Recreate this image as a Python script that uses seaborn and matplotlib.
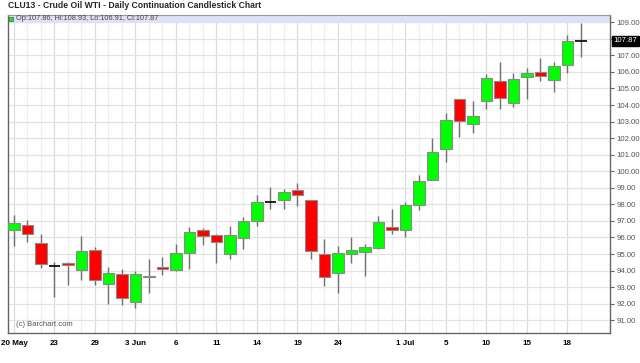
#CLU13 crude oil daily candlestick chart

#import packages
import numpy as np
import pandas as pd
import matplotlib
matplotlib.use("Agg")
import matplotlib.pyplot as plt
import matplotlib.transforms as mtrans
import seaborn as sns

#daily OHLC (one row per trading day)
dates = ["2013-05-20", "2013-05-21", "2013-05-22", "2013-05-23", "2013-05-24",
         "2013-05-28", "2013-05-29", "2013-05-30", "2013-05-31", "2013-06-03",
         "2013-06-04", "2013-06-05", "2013-06-06", "2013-06-07", "2013-06-10",
         "2013-06-11", "2013-06-12", "2013-06-13", "2013-06-14", "2013-06-17",
         "2013-06-18", "2013-06-19", "2013-06-20", "2013-06-21", "2013-06-24",
         "2013-06-25", "2013-06-26", "2013-06-27", "2013-06-28", "2013-07-01",
         "2013-07-02", "2013-07-03", "2013-07-05", "2013-07-08", "2013-07-09",
         "2013-07-10", "2013-07-11", "2013-07-12", "2013-07-15", "2013-07-16",
         "2013-07-17", "2013-07-18", "2013-07-19"]
opens = [96.43, 96.75, 95.68, 94.30, 94.46, 94.03, 95.24, 93.17, 93.79, 92.12,
         93.59, 94.23, 94.03, 95.04, 96.45, 96.13, 95.02, 95.98, 96.98, 98.12,
         98.26, 98.89, 98.26, 94.98, 93.83, 94.98, 95.14, 95.38, 96.63, 96.43,
         97.96, 99.45, 101.33, 104.35, 102.87, 104.23, 105.44, 104.11, 105.69, 106.00,
         105.53, 106.40, 107.86]
highs = [97.36, 97.04, 96.21, 94.53, 94.50, 96.09, 95.44, 94.20, 94.08, 93.97,
         94.72, 94.80, 95.60, 96.65, 96.55, 96.21, 96.69, 97.22, 98.57, 99.07,
         98.93, 99.27, 98.27, 95.89, 95.48, 96.00, 95.60, 97.30, 97.70, 98.16,
         99.77, 101.99, 103.50, 104.35, 104.24, 105.88, 106.58, 105.92, 106.26, 106.82,
         106.58, 108.23, 108.93]
lows = [95.50, 95.74, 94.14, 92.40, 93.13, 93.43, 93.13, 91.98, 91.92, 91.72,
        92.66, 93.75, 94.00, 94.08, 95.53, 94.44, 94.72, 95.28, 96.69, 97.70,
        97.72, 97.90, 94.68, 93.07, 92.63, 94.44, 93.67, 95.28, 96.21, 96.00,
        97.66, 99.45, 100.58, 102.05, 102.29, 103.74, 103.78, 103.90, 104.35, 105.45,
        104.79, 105.95, 106.91]
closes = [96.85, 96.23, 94.41, 94.29, 94.32, 95.18, 93.43, 93.83, 92.32, 93.77,
          93.69, 94.08, 95.04, 96.35, 96.09, 95.71, 96.17, 96.98, 98.12, 98.13,
          98.75, 98.56, 95.20, 93.63, 95.04, 95.24, 95.44, 96.92, 96.47, 97.94,
          99.43, 101.14, 103.10, 103.05, 103.32, 105.65, 104.43, 105.56, 105.94, 105.76,
          106.38, 107.85, 107.87]

#x axis labels (trading day index -> text)
label_pos = [0, 3, 6, 9, 12, 15, 18, 21, 24, 29, 32, 35, 38, 41]
label_txt = ["20 May", "23", "29", "3 Jun", "6", "11", "14", "19", "24",
             "1 Jul", "5", "10", "15", "18"]

df = pd.DataFrame({"date": pd.to_datetime(dates), "open": opens, "high": highs,
                   "low": lows, "close": closes})
df["pos"] = np.arange(len(df))
df["body"] = (df["close"] - df["open"]).abs()
df["bottom"] = df[["open", "close"]].min(axis=1)
df["doji"] = df["body"] < 0.05
df["color"] = np.where(df["close"] >= df["open"], "#00ff00", "#ff0000")

sns.set_style("white")
plt.rcParams["font.family"] = ["Liberation Sans", "DejaVu Sans"]

fig = plt.figure(figsize=(6.4, 3.63), dpi=100)
ax = fig.add_axes([8/640, 1-333/363, 602/640, 318/363])
ax.set_xlim(-0.444, 44.15)
ax.set_ylim(90.23, 109.44)

#grid
for p in df["pos"]:
    ax.axvline(p, color="#dcdcdc" if p in label_pos else "#efefef", lw=0.9, zorder=0)
for y in range(91, 110):
    ax.axhline(y, color="#e3e3e3", lw=0.9, zorder=0)
ax.axhspan(108.96, 109.6, color="#e0e0f6", zorder=0.5, lw=0)

#wicks
ax.vlines(df["pos"], df["low"], df["high"], color="#707070", lw=1, zorder=2)
#bodies
real = df[~df["doji"]]
ax.bar(real["pos"], real["body"], bottom=real["bottom"], width=0.84,
       color=real["color"], edgecolor="#8a8a8a", lw=0.8, zorder=3)
dj = df[df["doji"]]
ax.hlines(dj["close"], dj["pos"] - 0.42, dj["pos"] + 0.42, color="black", lw=1.2, zorder=3)

#axes styling
for s in ["left", "bottom", "right"]:
    ax.spines[s].set_color("#666666")
    ax.spines[s].set_linewidth(1)
ax.spines["top"].set_color("#999999")
ax.yaxis.tick_right()
yt = list(range(91, 110))
ax.set_yticks(yt)
ax.set_yticklabels(["" if v == 108 else f"{v:.2f}" for v in yt])
ax.tick_params(axis="y", length=3, width=0.8, color="#666666", labelsize=5.6,
               labelcolor="#555555", pad=1.5)
ax.set_xticks(label_pos)
ax.set_xticklabels(label_txt, fontweight="bold")
ax.tick_params(axis="x", length=3, width=0.8, color="#666666", labelsize=5.8,
               labelcolor="black", pad=2)

#last price box
tr = mtrans.blended_transform_factory(ax.transAxes, ax.transData)
ax.text(1.006, closes[-1], f"{closes[-1]:.2f}", transform=tr, fontsize=5.6,
        color="white", va="center", ha="left",
        bbox=dict(boxstyle="square,pad=0.15", fc="black", ec="black"))

#legend line and title
ax.plot([3/602], [1-4/318], transform=ax.transAxes, marker="s", ms=3.5,
        mfc="#00ff00", mec="#555555", mew=0.5, clip_on=False, zorder=5)
fig.text(16/640, 1-19/363, "Op:107.86, Hi:108.93, Lo:106.91, Cl:107.87",
         fontsize=5.3, color="#444444", va="center")
fig.text(8/640, 1-6/363, "CLU13 - Crude Oil WTI - Daily Continuation Candlestick Chart",
         fontsize=6.2, fontweight="bold", va="center")
fig.text(16/640, 1-324/363, "(c) Barchart.com", fontsize=5.5, color="#555555", va="center")

fig.savefig("out.png", dpi=100)
